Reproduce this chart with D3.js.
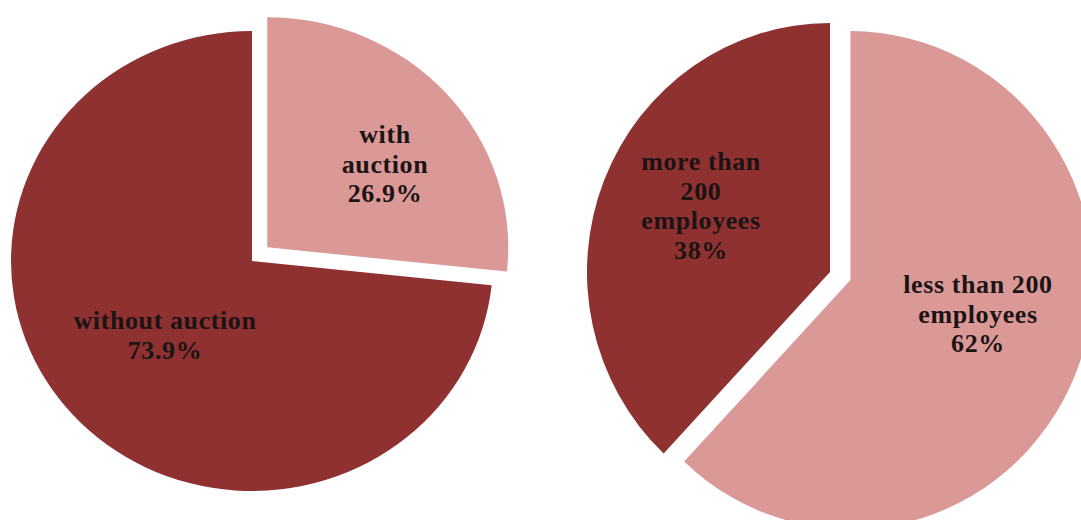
<!DOCTYPE html>
<html><head><meta charset="utf-8">
<script src="https://cdn.jsdelivr.net/npm/d3@7"></script>
<style>html,body{margin:0;padding:0;background:#fff;overflow:hidden}</style>
</head><body><svg id="chart" width="1081" height="520"></svg>
<script>
// Share of procedures with / without an auction
const auctionCategories = ["with auction", "without auction"];
const auctionValues = [26.9, 73.9];
const auctionLabels = [["with", "auction", "26.9%"], ["without auction", "73.9%"]];

// Share of companies by size
const sizeCategories = ["less than 200 employees", "more than 200 employees"];
const sizeValues = [62, 38];
const sizeLabels = [["less than 200", "employees", "62%"], ["more than", "200", "employees", "38%"]];

const LIGHT = "#DA9997", DARK = "#8F3131";

const pies = [
  { cats: auctionCategories, vals: auctionValues, labels: auctionLabels,
    fills: [LIGHT, DARK], cx: 252, cy: 261, rx: 241, ry: 230,
    explode: [20.5, 0], labelAt: [[385, 143], [165, 329]] },
  { cats: sizeCategories, vals: sizeValues, labels: sizeLabels,
    fills: [LIGHT, DARK], cx: 830, cy: 272, rx: 243, ry: 249,
    explode: [22, 0], labelAt: [[978, 293], [701, 170]] }
];

const svg = d3.select("#chart");
const R = 100;
const arc = d3.arc().innerRadius(0).outerRadius(R);
const pie = d3.pie().sort(null).value(d => d.v);
const lineH = 29.5;

pies.forEach(p => {
  const rows = p.cats.map((c, i) => ({ c, v: p.vals[i], i }));
  const arcs = pie(rows);
  const g = svg.append("g");
  g.selectAll("path").data(arcs).join("path")
    .attr("d", arc)
    .attr("fill", d => p.fills[d.data.i])
    .attr("transform", d => {
      const a = (d.startAngle + d.endAngle) / 2;
      const e = p.explode[d.data.i];
      const ox = Math.sin(a) * e, oy = -Math.cos(a) * e;
      return `translate(${p.cx + ox},${p.cy + oy}) scale(${p.rx / R},${p.ry / R})`;
    });

  arcs.forEach(d => {
    const [lx, ly] = p.labelAt[d.data.i];
    const t = svg.append("text")
      .attr("x", lx).attr("y", ly)
      .attr("text-anchor", "middle")
      .attr("font-family", "'Liberation Serif', 'DejaVu Serif', serif")
      .attr("font-weight", "bold")
      .attr("font-size", 26)
      .attr("letter-spacing", 0.6)
      .attr("fill", "#1c1414");
    p.labels[d.data.i].forEach((line, k) => {
      t.append("tspan").attr("x", lx).attr("y", ly + k * lineH).text(line);
    });
  });
});
</script></body></html>
